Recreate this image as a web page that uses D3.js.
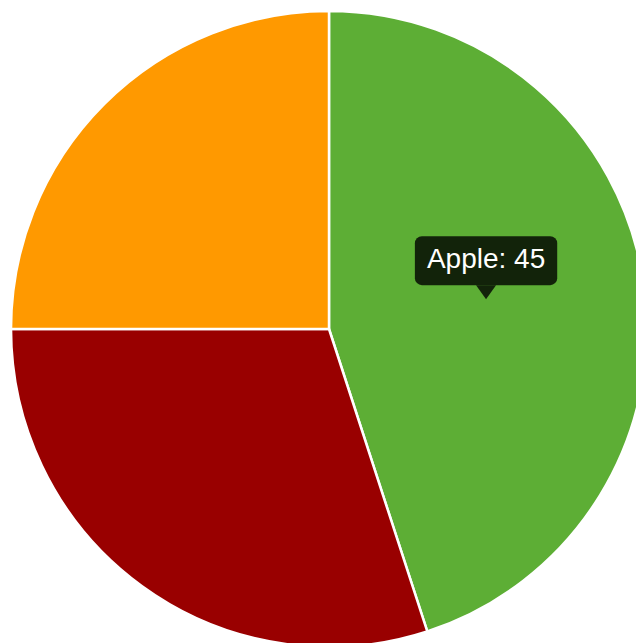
<!DOCTYPE html>
<html>
<head>
<meta charset="utf-8">
<script src="https://cdn.jsdelivr.net/npm/d3@7"></script>
<style>
  html, body { margin: 0; padding: 0; background: #fff; }
  svg { display: block; }
</style>
</head>
<body>
<svg id="chart" width="636" height="643"></svg>
<script>
// Fruit shares drawn as a pie, starting at 12 o'clock and going clockwise
const categories = ["Apple", "Cherry", "Orange"];
const values = [45, 30, 25];
const colors = ["#5dae35", "#990000", "#ff9900"];
const highlighted = "Apple";

const data = categories.map((c, i) => ({ name: c, value: values[i], color: colors[i] }));

const svg = d3.select("#chart");
const cx = 329, cy = 329, radius = 318;

const pie = d3.pie().value(d => d.value).sort(null);
const arc = d3.arc().innerRadius(0).outerRadius(radius);

const g = svg.append("g").attr("transform", `translate(${cx},${cy})`);

const arcs = pie(data);

g.selectAll("path.slice")
  .data(arcs)
  .join("path")
  .attr("class", "slice")
  .attr("d", arc)
  .attr("fill", d => d.data.color)
  .attr("stroke", "#fff")
  .attr("stroke-width", 2.5)
  .attr("stroke-linejoin", "round");

// Tooltip anchored at the centroid of the highlighted slice
const hit = arcs.find(d => d.data.name === highlighted);
const [tx, ty] = arc.centroid(hit);

const tip = g.append("g").attr("transform", `translate(${tx},${ty})`);
const label = `${hit.data.name}: ${hit.data.value}`;

const text = tip.append("text")
  .attr("text-anchor", "middle")
  .attr("x", 0)
  .attr("y", -36)
  .attr("fill", "#ffffff")
  .attr("font-family", "'Liberation Sans', Arial, Helvetica, sans-serif")
  .attr("font-size", 28)
  .text(label);

const bb = text.node().getBBox();
const padX = 12, boxH = 49, boxBottom = -19;
const boxW = bb.width + padX * 2;

tip.insert("rect", "text")
  .attr("x", -boxW / 2)
  .attr("y", boxBottom - boxH)
  .attr("width", boxW)
  .attr("height", boxH)
  .attr("rx", 7)
  .attr("fill", "rgba(0,0,0,0.8)");

tip.insert("path", "text")
  .attr("d", `M${-10},${boxBottom} L0,${boxBottom + 14} L10,${boxBottom} Z`)
  .attr("fill", "rgba(0,0,0,0.8)");
</script>
</body>
</html>
